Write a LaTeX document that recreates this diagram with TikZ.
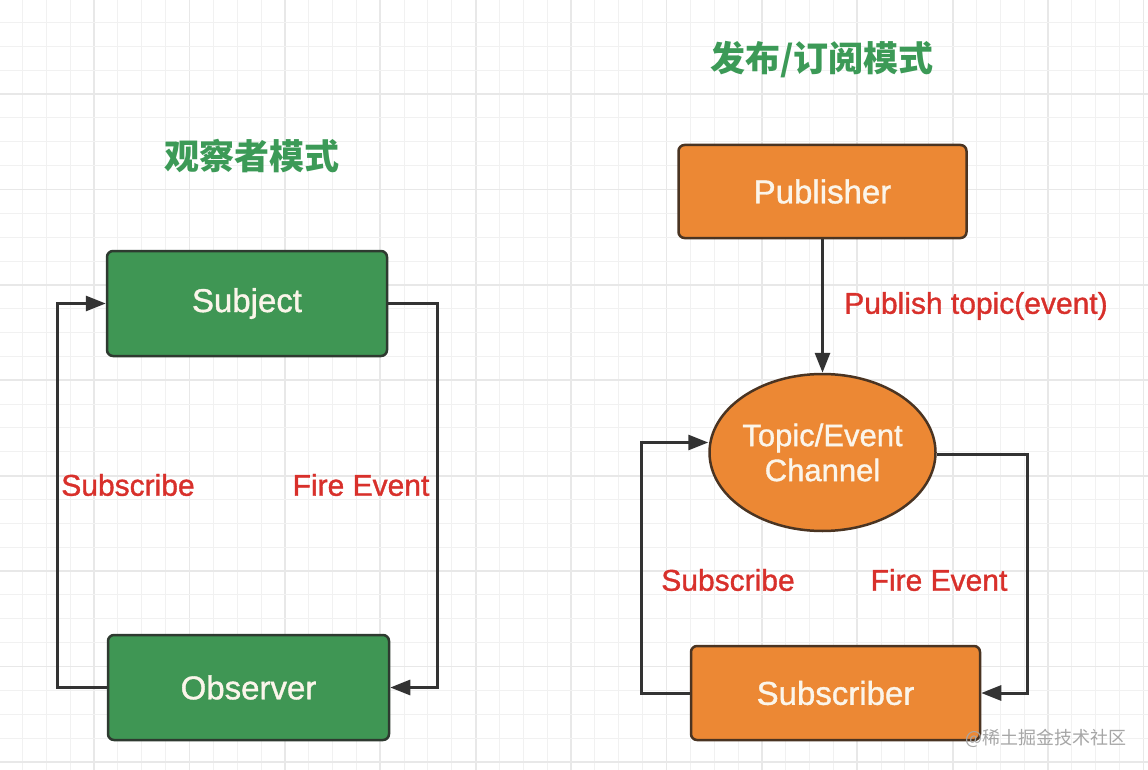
\documentclass[tikz,border=0pt]{standalone}
\usepackage{fontspec}
\setmainfont{Liberation Sans}
\newfontfamily\medf{Liberation Sans}[FakeBold=1.1]
\newfontfamily\cjk{Noto Sans CJK SC}
\usetikzlibrary{arrows.meta,shapes.geometric}
\definecolor{gfill}{HTML}{3F9654}
\definecolor{ofill}{HTML}{EC8834}
\definecolor{bordg}{HTML}{2E3A30}
\definecolor{bordo}{HTML}{4A3422}
\definecolor{boxtxt}{HTML}{FBF5EA}
\definecolor{redtxt}{HTML}{D8302B}
\definecolor{titleg}{HTML}{3C9A57}
\definecolor{linec}{HTML}{333333}
\definecolor{gridminor}{HTML}{F1F1F1}
\definecolor{gridmajor}{HTML}{E8E8E8}
\tikzset{
  boxnode/.style={draw, line width=2.5pt, rounded corners=6pt, text=boxtxt,
    font=\medf\fontsize{33}{38}\selectfont},
  greenbox/.style={boxnode, fill=gfill, draw=bordg},
  orangebox/.style={boxnode, fill=ofill, draw=bordo},
  conn/.style={draw=linec, line width=3pt, -{Triangle[length=20pt,width=15pt]}},
  redlabel/.style={text=redtxt, font=\medf\fontsize{30}{34}\selectfont},
  titlelabel/.style={text=titleg, font=\cjk\bfseries\fontsize{35}{40}\selectfont},
}
\begin{document}
\begin{tikzpicture}[x=1pt,y=-1pt]
\useasboundingbox (0,0) rectangle (1148,770);
\fill[white] (0,0) rectangle (1148,770);
% grid
\foreach \i in {0,...,47} {
  \pgfmathsetmacro\gx{22.5+23.85*\i}
  \pgfmathtruncatemacro\m{mod(\i,4)}
  \ifnum\m=3
    \draw[gridmajor, line width=1.8pt] (\gx,0) -- (\gx,770);
  \else
    \draw[gridminor, line width=1pt] (\gx,0) -- (\gx,770);
  \fi
}
\foreach \i in {0,...,31} {
  \pgfmathsetmacro\gy{22.5+23.85*\i}
  \pgfmathtruncatemacro\m{mod(\i,4)}
  \ifnum\m=3
    \draw[gridmajor, line width=1.8pt] (0,\gy) -- (1148,\gy);
  \else
    \draw[gridminor, line width=1pt] (0,\gy) -- (1148,\gy);
  \fi
}
% titles
\node[titlelabel] (t1) at (252,156) {观察者模式};
\node[titlelabel] (t2) at (822,60) {发布/订阅模式};
% observer pattern
\node[greenbox, minimum width=280pt, minimum height=105pt] (subj) at (247,303.5) {Subject};
\node[greenbox, minimum width=281pt, minimum height=105pt] (obs) at (248.5,687.5) {Observer};
\draw[conn] (obs.west) -- ++(-49,0) |- (subj.west);
\draw[conn] (subj.east) -- ++(49,0) |- (obs.east);
\node[redlabel] (l1) at (128,485) {Subscribe};
\node[redlabel] (l2) at (361,485) {Fire Event};
% pub/sub pattern
\node[orangebox, minimum width=288pt, minimum height=93pt] (pub) at (822.5,191.5) {Publisher};
\node[draw=bordo, line width=2.5pt, fill=ofill, ellipse, inner xsep=-10pt, inner ysep=0pt,
  minimum width=226pt, minimum height=157pt,
  text=boxtxt, align=center, font=\medf\fontsize{31}{35}\selectfont] (ell) at (822.5,452.5) {Topic/Event\\Channel};
\node[orangebox, minimum width=289pt, minimum height=94pt] (sub) at (835.5,693) {Subscriber};
\draw[conn] (pub.south) -- (ell.north);
\draw[conn] (sub.west) -- ++(-48,0) |- ([yshift=10pt]ell.west);
\draw[conn] ([yshift=-2pt]ell.east) -- ++(91,0) |- (sub.east);
\node[redlabel] (l3) at (976,306) {Publish topic(event)};
\node[redlabel] (l4) at (728,580) {Subscribe};
\node[redlabel] (l5) at (939,580) {Fire Event};
% watermark
\node[text=black!35, font=\cjk\fontsize{18}{20}\selectfont] (wm) at (1046,738) {@稀土掘金技术社区};
\end{tikzpicture}
\end{document}
